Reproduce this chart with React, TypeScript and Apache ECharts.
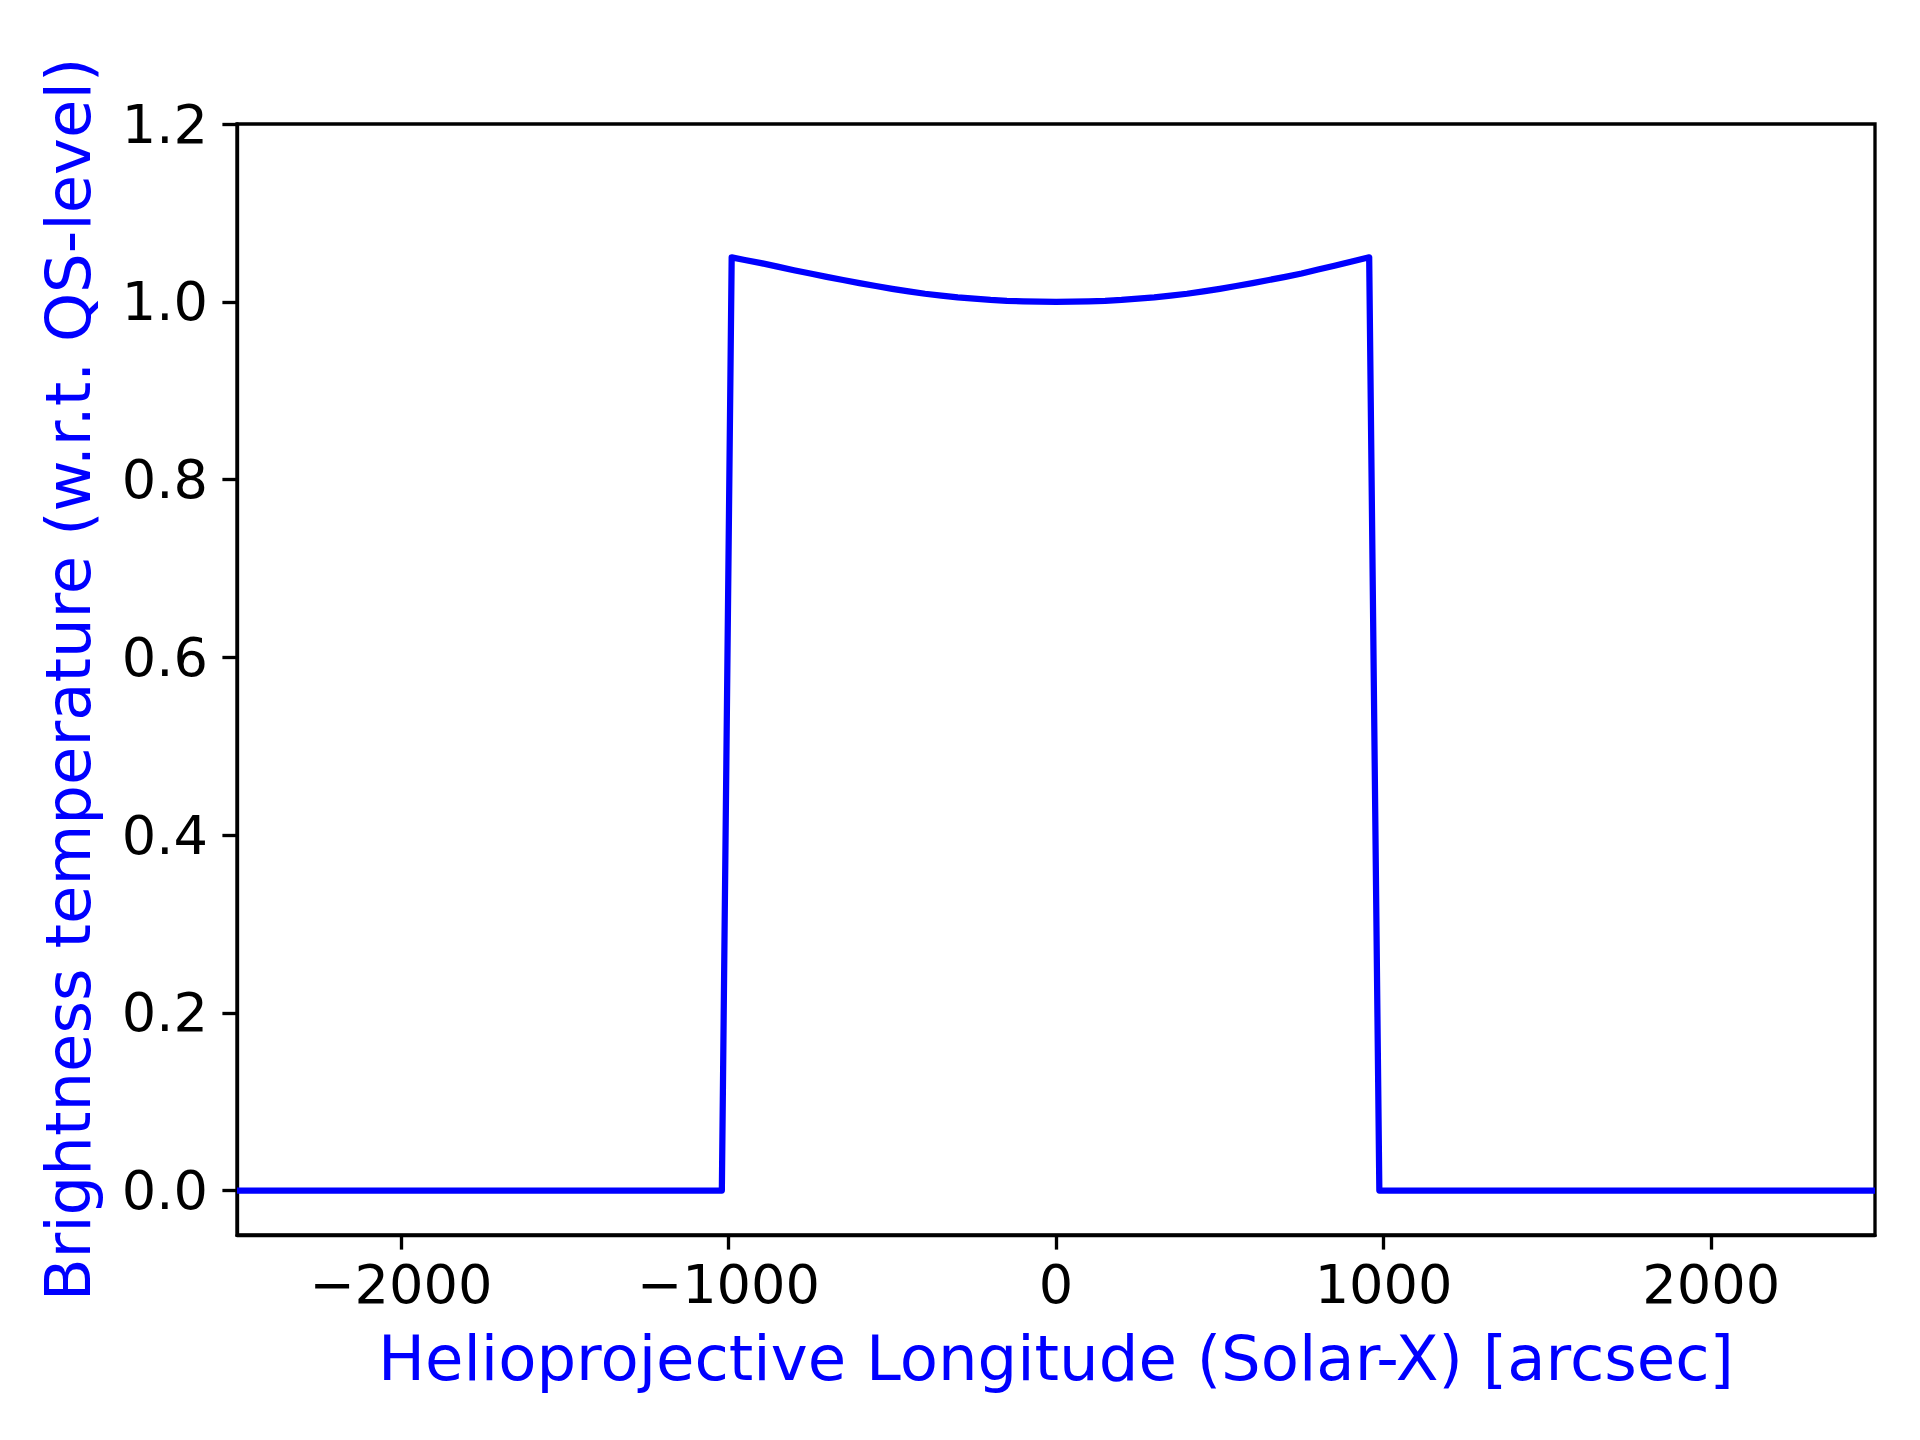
import React, { useEffect, useRef } from "react";
import * as echarts from "echarts";

// Helioprojective longitude samples (arcsec) and brightness (w.r.t. QS level)
const solarX = [
  -2500, -1020, -990, -950, -900, -850, -800, -750, -700, -650, -600, -550, -500, -450,
  -400, -350, -300, -250, -200, -150, -100, -50, 0, 50, 100, 150, 200, 250, 300, 350,
  400, 450, 500, 550, 600, 650, 700, 750, 800, 850, 900, 956, 987, 2500,
];
const brightness = [
  0, 0, 1.05, 1.047, 1.0435, 1.0395, 1.0355, 1.0318, 1.028, 1.0245, 1.021, 1.0177, 1.0145, 1.0117,
  1.009, 1.007, 1.005, 1.0035, 1.002, 1.001, 1.0005, 1.0001, 1.0, 1.0001, 1.0005, 1.001, 1.002, 1.0035, 1.005, 1.007,
  1.009, 1.0117, 1.0145, 1.0177, 1.021, 1.0245, 1.028, 1.0318, 1.0362, 1.0405, 1.0450, 1.05, 0, 0,
];
const xTicks = [-2000, -1000, 0, 1000, 2000];
const yTicks = [0, 0.2, 0.4, 0.6, 0.8, 1.0, 1.2];
const xRange = [-2500, 2500];
const yRange = [-0.05, 1.2];
const xLabel = "Helioprojective Longitude (Solar-X) [arcsec]";
const yLabel = "Brightness temperature (w.r.t. QS-level)";

const FONT = "DejaVu Sans";
const LW = 3.33;

export default function App() {
  const ref = useRef<HTMLDivElement>(null);
  useEffect(() => {
    if (!ref.current) return;
    const chart = echarts.init(ref.current, undefined, { renderer: "svg" });
    const data = solarX.map((x, i) => [x, brightness[i]]);
    chart.setOption({
      animation: false,
      backgroundColor: "#ffffff",
      grid: {
        left: 237,
        top: 124,
        width: 1638,
        height: 1111,
        show: true,
        borderColor: "#000000",
        borderWidth: LW,
        backgroundColor: "transparent",
      },
      xAxis: {
        type: "value",
        min: xRange[0],
        max: xRange[1],
        name: xLabel,
        nameLocation: "middle",
        nameGap: 92,
        nameTextStyle: { color: "#0000ff", fontSize: 62.5, fontFamily: FONT },
        axisLine: { onZero: false, lineStyle: { color: "#000", width: LW } },
        axisTick: {
          show: true,
          length: 14.6,
          lineStyle: { color: "#000", width: LW },
          customValues: xTicks,
        },
        axisLabel: {
          color: "#000",
          fontSize: 54.2,
          fontFamily: FONT,
          margin: 22,
          customValues: xTicks,
          formatter: (v: number) => String(v).replace("-", "\u2212"),
        },
        splitLine: { show: false },
      },
      yAxis: {
        type: "value",
        min: yRange[0],
        max: yRange[1],
        name: yLabel,
        nameLocation: "middle",
        nameGap: 137,
        nameTextStyle: { color: "#0000ff", fontSize: 62.5, fontFamily: FONT },
        axisLine: { onZero: false, lineStyle: { color: "#000", width: LW } },
        axisTick: {
          show: true,
          length: 14.6,
          lineStyle: { color: "#000", width: LW },
          customValues: yTicks,
        },
        axisLabel: {
          color: "#000",
          fontSize: 54.2,
          fontFamily: FONT,
          margin: 29,
          customValues: yTicks,
          formatter: (v: number) => v.toFixed(1),
        },
        splitLine: { show: false },
      },
      series: [
        {
          type: "line",
          data,
          showSymbol: false,
          symbol: "none",
          clip: true,
          lineStyle: { color: "#0000ff", width: 6.25, join: "round", cap: "butt" },
        },
      ],
    });
    return () => chart.dispose();
  }, []);
  return (
    <div
      ref={ref}
      style={{ position: "absolute", left: 0, top: 0, width: 1920, height: 1440 }}
    />
  );
}
